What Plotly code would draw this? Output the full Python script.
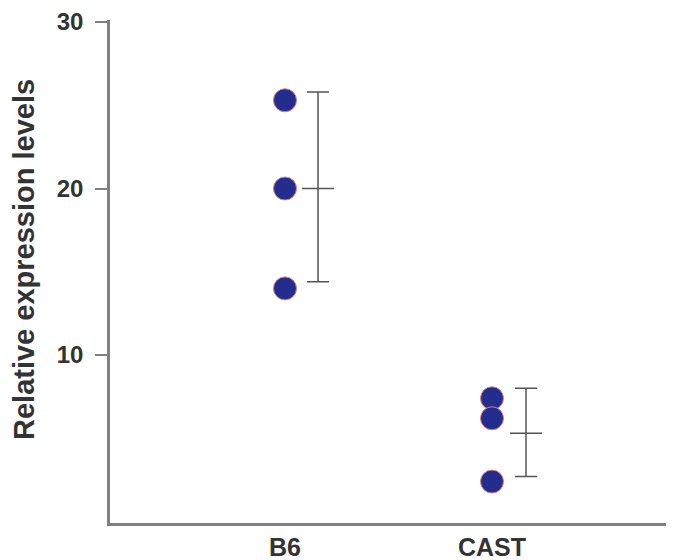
import plotly.graph_objects as go

groups = ["B6", "CAST"]
group_pos = [0.3136, 0.6846]
err_pos = [0.3728, 0.7455]
b6_values = [25.3, 20.0, 14.0]
cast_values = [7.4, 6.2, 2.4]
means = [20.0, 5.3]
upper = [25.8, 8.0]
lower = [14.4, 2.7]
y_title = "Relative expression levels"

fig = go.Figure()
for pos, vals in zip(group_pos, [b6_values, cast_values]):
    fig.add_trace(go.Scatter(
        x=[pos] * len(vals), y=vals, mode="markers",
        marker=dict(size=23, color="#232d8e", line=dict(color="#e08080", width=1)),
        showlegend=False, hoverinfo="y"))

fig.add_trace(go.Scatter(
    x=err_pos, y=means, mode="markers",
    marker=dict(symbol="line-ew", size=23, line=dict(color="#555555", width=1.5)),
    error_y=dict(type="data", symmetric=False,
                 array=[u - m for u, m in zip(upper, means)],
                 arrayminus=[m - l for m, l in zip(means, lower)],
                 color="#555555", thickness=1.5, width=11),
    showlegend=False, hoverinfo="y"))

FONT = "Liberation Sans, Arial, sans-serif"
fig.update_layout(
    width=666, height=552,
    margin=dict(l=102, r=6, t=12, b=37),
    paper_bgcolor="white", plot_bgcolor="white",
    font=dict(family=FONT, color="#333333"),
    xaxis=dict(range=[0, 1], tickvals=group_pos, ticktext=groups, automargin=False,
               showgrid=False, zeroline=False, showline=True, linecolor="#808080",
               linewidth=2.5, ticks="",
               tickfont=dict(size=25, family=FONT, color="#333333", weight="bold"),
               ticklabelstandoff=0),
    yaxis=dict(range=[-0.09, 30.12], tickvals=[10, 20, 30], automargin=False,
               showgrid=False, zeroline=False,
               showline=True, linecolor="#808080", linewidth=2.5, ticks="outside",
               ticklen=12, tickwidth=2, tickcolor="#808080",
               tickfont=dict(size=24, family=FONT, color="#333333", weight="bold"),
               ticklabelstandoff=7),
    annotations=[dict(text=y_title, xref="paper", yref="paper", x=-0.154, y=0.523,
                      textangle=-90, showarrow=False, xanchor="center", yanchor="middle",
                      font=dict(size=29, family=FONT, color="#333333", weight="bold"))],
)
fig.write_html("out.html")
